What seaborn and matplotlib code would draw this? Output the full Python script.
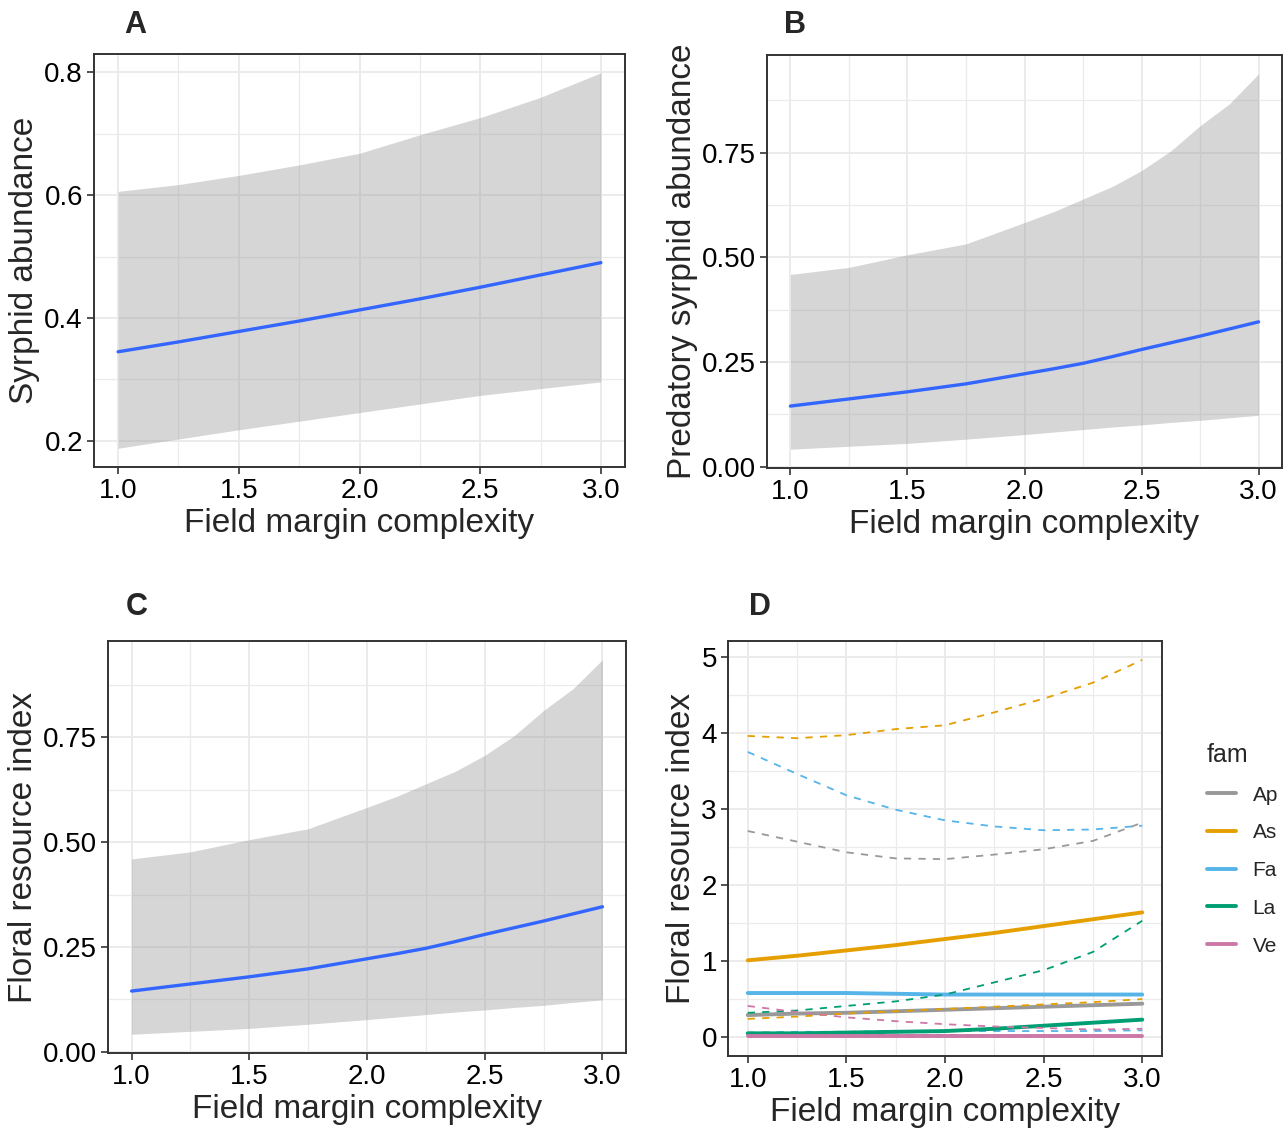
import matplotlib
matplotlib.use("Agg")
import matplotlib.pyplot as plt
import seaborn as sns
import pandas as pd
import numpy as np
from matplotlib.lines import Line2D
from matplotlib.ticker import MultipleLocator, FormatStrFormatter


# Values (x = field margin complexity)

complexity = [1.0, 1.25, 1.5, 1.75, 2.0, 2.25, 2.5, 2.75, 3.0]

# A - syrphid abundance
syrphid_fit  = [0.345, 0.361, 0.378, 0.395, 0.413, 0.431, 0.450, 0.470, 0.490]
syrphid_low  = [0.188, 0.203, 0.218, 0.232, 0.246, 0.260, 0.274, 0.285, 0.296]
syrphid_high = [0.606, 0.617, 0.632, 0.649, 0.668, 0.698, 0.726, 0.759, 0.799]

# B - predatory syrphid abundance (finer x near the curved end)
pred_x    = [1.0, 1.25, 1.5, 1.75, 2.0, 2.125, 2.25, 2.375, 2.5, 2.625, 2.75, 2.875, 3.0]
pred_fit  = [0.145, 0.162, 0.179, 0.198, 0.222, 0.234, 0.247, 0.263, 0.280, 0.296, 0.312, 0.329, 0.346]
pred_low  = [0.042, 0.049, 0.056, 0.066, 0.077, 0.083, 0.089, 0.095, 0.100, 0.106, 0.111, 0.117, 0.123]
pred_high = [0.459, 0.476, 0.506, 0.532, 0.583, 0.609, 0.639, 0.669, 0.707, 0.754, 0.814, 0.866, 0.938]

# C - floral resource index
floral_x    = [1.0, 1.25, 1.5, 1.75, 2.0, 2.125, 2.25, 2.375, 2.5, 2.625, 2.75, 2.875, 3.0]
floral_fit  = [0.145, 0.162, 0.179, 0.198, 0.222, 0.234, 0.247, 0.263, 0.280, 0.296, 0.312, 0.329, 0.346]
floral_low  = [0.042, 0.049, 0.056, 0.066, 0.077, 0.083, 0.089, 0.095, 0.100, 0.106, 0.111, 0.118, 0.124]
floral_high = [0.460, 0.477, 0.506, 0.532, 0.583, 0.609, 0.639, 0.669, 0.707, 0.754, 0.814, 0.866, 0.935]

# D - floral resource index per plant family
families = ["Ap", "As", "Fa", "La", "Ve"]
fam_colors = ["#999999", "#E69F00", "#56B4E9", "#009E73", "#CC79A7"]

fam_fit = {
    "Ap": [0.29, 0.31, 0.32, 0.34, 0.36, 0.38, 0.40, 0.42, 0.44],
    "As": [1.01, 1.07, 1.14, 1.21, 1.29, 1.37, 1.46, 1.55, 1.64],
    "Fa": [0.58, 0.58, 0.58, 0.57, 0.56, 0.56, 0.56, 0.56, 0.56],
    "La": [0.05, 0.05, 0.06, 0.07, 0.08, 0.11, 0.15, 0.19, 0.23],
    "Ve": [0.01, 0.01, 0.01, 0.01, 0.01, 0.01, 0.01, 0.01, 0.01],
}
fam_low = {
    "Ap": [0.02, 0.02, 0.02, 0.02, 0.02, 0.02, 0.02, 0.02, 0.02],
    "As": [0.24, 0.27, 0.31, 0.34, 0.37, 0.40, 0.43, 0.46, 0.50],
    "Fa": [0.06, 0.07, 0.07, 0.08, 0.08, 0.08, 0.08, 0.08, 0.09],
    "La": [0.03, 0.03, 0.03, 0.03, 0.03, 0.02, 0.02, 0.01, 0.01],
    "Ve": [0.00, 0.00, 0.00, 0.00, 0.00, 0.00, 0.00, 0.00, 0.00],
}
fam_high = {
    "Ap": [2.71, 2.57, 2.43, 2.35, 2.34, 2.40, 2.47, 2.58, 2.82],
    "As": [3.96, 3.93, 3.97, 4.05, 4.10, 4.27, 4.45, 4.66, 4.96],
    "Fa": [3.75, 3.46, 3.18, 2.99, 2.85, 2.77, 2.72, 2.73, 2.78],
    "La": [0.32, 0.35, 0.41, 0.47, 0.56, 0.72, 0.88, 1.12, 1.53],
    "Ve": [0.41, 0.33, 0.26, 0.21, 0.17, 0.14, 0.12, 0.10, 0.11],
}


# Style

sns.set_style("white")
plt.rcParams['font.family'] = ['Liberation Sans', 'DejaVu Sans']

tickSize  = 20
titleSize = 24
gridColor = "#EBEBEB"

fig = plt.figure(figsize=(12.88, 11.29), dpi=100)
W, H = 1288, 1129

def add_axes_px(left, top, right, bottom):
  return fig.add_axes([left / W, 1 - bottom / H, (right - left) / W, (bottom - top) / H])

def expanded(lo, hi):
  pad = (hi - lo) * 0.05
  return lo - pad, hi + pad

def style_axes(ax, ylim, ymajor, yfmt, ylabel):
  ax.set_xlim(0.9, 3.1)
  ax.set_ylim(*ylim)
  ax.xaxis.set_major_locator(MultipleLocator(0.5))
  ax.xaxis.set_minor_locator(MultipleLocator(0.25))
  ax.yaxis.set_major_locator(MultipleLocator(ymajor))
  ax.yaxis.set_minor_locator(MultipleLocator(ymajor / 2))
  ax.xaxis.set_major_formatter(FormatStrFormatter("%.1f"))
  ax.yaxis.set_major_formatter(FormatStrFormatter(yfmt))
  ax.set_axisbelow(True)
  ax.grid(True, which="major", color=gridColor, lw=1.4, zorder=0)
  ax.grid(True, which="minor", color=gridColor, lw=0.9, zorder=0)
  for s in ax.spines.values():
    s.set_color("#333333")
    s.set_linewidth(1.4)
  ax.tick_params(axis="both", which="major", length=5, width=1.2, color="#333333",
                 labelsize=tickSize, labelcolor="black", pad=3, left=True, bottom=True)
  ax.tick_params(axis="both", which="minor", length=0)
  ax.set_xlabel("Field margin complexity", fontsize=titleSize, labelpad=3)
  ax.set_ylabel(ylabel, fontsize=titleSize, labelpad=3)

def ribbon_panel(ax, x, fit, low, high):
  ax.fill_between(x, low, high, color="#999999", alpha=0.4, lw=0, zorder=2)
  sns.lineplot(x=x, y=fit, ax=ax, color="#3366FF", lw=2.4, zorder=3)


# A
axA = add_axes_px(94, 54, 625, 467)
ribbon_panel(axA, complexity, syrphid_fit, syrphid_low, syrphid_high)
style_axes(axA, expanded(min(syrphid_low), max(syrphid_high)), 0.2, "%.1f", "Syrphid abundance")

# B
axB = add_axes_px(767, 55, 1282, 468)
ribbon_panel(axB, pred_x, pred_fit, pred_low, pred_high)
style_axes(axB, expanded(min(pred_low), max(pred_high)), 0.25, "%.2f", "Predatory syrphid abundance")

# C
axC = add_axes_px(108, 641, 626, 1053)
ribbon_panel(axC, floral_x, floral_fit, floral_low, floral_high)
style_axes(axC, expanded(min(floral_low), max(floral_high)), 0.25, "%.2f", "Floral resource index")

# D
rows = []
for fam in families:
  for bound, src in (("fit", fam_fit), ("lower", fam_low), ("upper", fam_high)):
    for x, v in zip(complexity, src[fam]):
      rows.append({"complexity": x, "value": v, "fam": fam, "bound": bound})
famDf = pd.DataFrame(rows)

axD = add_axes_px(728, 641, 1162, 1056)
sns.lineplot(ax=axD, data=famDf, x="complexity", y="value",
             hue="fam", hue_order=families, palette=dict(zip(families, fam_colors)),
             style="bound", style_order=["fit", "lower", "upper"],
             dashes={"fit": "", "lower": (4, 4), "upper": (4, 4)},
             size="bound", sizes={"fit": 2.8, "lower": 1.3, "upper": 1.3},
             legend=False, zorder=3)
allD = famDf["value"]
style_axes(axD, expanded(allD.min(), allD.max()), 1, "%.0f", "Floral resource index")

handles = [Line2D([0], [0], color=c, lw=2.8) for c in fam_colors]
leg = fig.legend(handles, families, title="fam", loc="upper left",
                 bbox_to_anchor=(1188 / W, 1 - 724 / H), frameon=False,
                 fontsize=15, title_fontsize=18, handlelength=1.4,
                 labelspacing=0.9, alignment="left")

# Panel letters
for letter, (px, py) in zip("ABCD", [(135, 25), (795, 25), (137, 607), (760, 607)]):
  fig.text(px / W, 1 - py / H, letter, fontsize=22, fontweight="bold", ha="center", va="center")

fig.savefig("out.png", dpi=100)
